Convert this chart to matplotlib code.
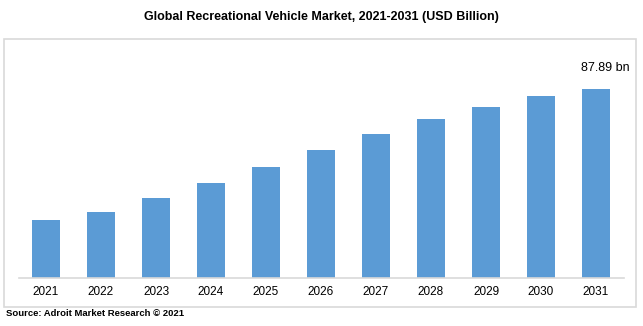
import matplotlib.pyplot as plt
from matplotlib.patches import Rectangle

years = ['2021', '2022', '2023', '2024', '2025', '2026',
         '2027', '2028', '2029', '2030', '2031']
values = [26.8, 30.5, 37.1, 44.1, 51.5, 59.4, 66.9, 73.9, 79.5, 84.6, 87.89]
last_label = '87.89 bn'

W, H = 643, 326
plt.rcParams['font.family'] = ['Liberation Sans', 'DejaVu Sans']

fig = plt.figure(figsize=(W / 100, H / 100), dpi=100)
fig.patch.set_facecolor('white')

# outer light grey frame
fig.patches.append(Rectangle((4 / W, 1 - 307 / H), 632 / W, 268 / H,
                             transform=fig.transFigure, fill=False,
                             edgecolor='#d9d9d9', linewidth=1.2))

ax = fig.add_axes([18.5 / W, 1 - 277.5 / H, 605 / W, (277.5 - 63) / H])
ax.bar(range(len(years)), values, width=0.51, color='#5b9bd5')
ax.set_xlim(-0.5, len(years) - 0.5)
ax.set_ylim(0, 100)
ax.set_xticks(range(len(years)))
ax.set_xticklabels(years, fontsize=8.5, color='#000000')
ax.tick_params(axis='x', length=0, pad=6)
ax.set_yticks([])
for s in ['top', 'left', 'right']:
    ax.spines[s].set_visible(False)
ax.spines['bottom'].set_color('#d9d9d9')
ax.spines['bottom'].set_linewidth(1.2)

ax.annotate(last_label, (len(years) - 1, values[-1]), xytext=(9, 21),
            textcoords='offset pixels', ha='center', va='center', fontsize=9)

fig.text(0.5, 1 - 17 / H, 'Global Recreational Vehicle Market, 2021-2031 (USD Billion)',
         ha='center', va='center', fontsize=9, fontweight='bold')
fig.text(6 / W, 1 - 314 / H, 'Source: Adroit Market Research © 2021',
         ha='left', va='center', fontsize=6.8, fontweight='bold')

fig.savefig('out.png', dpi=100)
